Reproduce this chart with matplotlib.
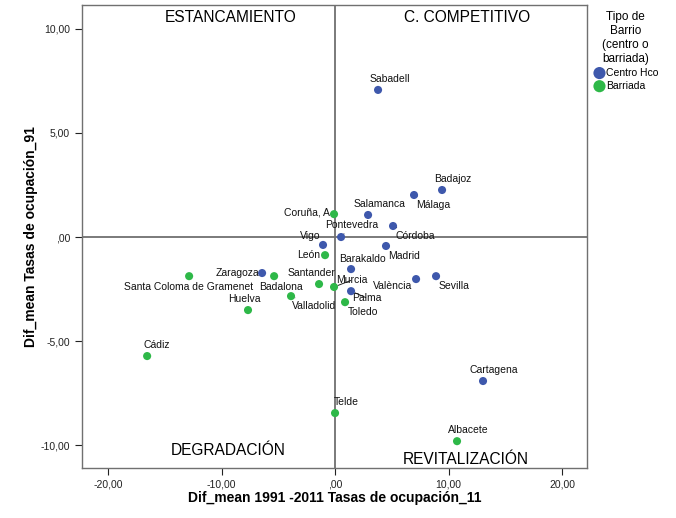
import matplotlib
matplotlib.use("Agg")
import matplotlib.pyplot as plt

plt.rcParams['font.family'] = ['Liberation Sans', 'DejaVu Sans']

# barrios: name, dif 1991-2011 (x), dif 91 (y), tipo
names = ["Sabadell", "Badajoz", "Málaga", "Salamanca", "Córdoba", "Pontevedra",
         "Madrid", "Barakaldo", "València", "Sevilla", "Palma", "Cartagena", "Zaragoza", "Vigo",
         "Coruña, A", "León", "Badalona", "Santa Coloma de Gramenet", "Santander",
         "Murcia", "Valladolid", "Toledo", "Huelva", "Cádiz", "Telde", "Albacete"]
x_vals = [3.79, 9.43, 6.96, 2.91, 5.11, 0.53,
          4.49, 1.41, 7.14, 8.90, 1.41, 13.04, -6.43, -1.06,
          -0.09, -0.88, -5.37, -12.86, -1.41,
          -0.09, -3.88, 0.88, -7.67, -16.56, 0.00, 10.75]
y_vals = [7.07, 2.26, 2.02, 1.06, 0.53, 0.00,
          -0.43, -1.54, -2.02, -1.88, -2.60, -6.92, -1.73, -0.38,
          1.10, -0.87, -1.88, -1.88, -2.26,
          -2.40, -2.84, -3.13, -3.51, -5.72, -8.46, -9.81]
tipo = ["Centro Hco"] * 14 + ["Barriada"] * 12

# label offsets in pixels (dx, dy)
offsets = [(12, 11), (11, 11), (19, -10), (11, 11), (22, -10), (11, 12),
           (18, -10), (11, 10), (-23, -7), (18, -10), (16, -7), (11, 11), (-25, 0), (-13, 9),
           (-27, 2), (-16, 0), (7, -11), (-1, -11), (-8, 11),
           (18, 7), (23, -10), (18, -10), (-4, 11), (10, 11), (11, 11), (11, 11)]

colors = {"Centro Hco": "#3E58AC", "Barriada": "#2EB848"}
quadrants = ["ESTANCAMIENTO", "C. COMPETITIVO", "DEGRADACIÓN", "REVITALIZACIÓN"]

fig = plt.figure(figsize=(6.76, 5.18), dpi=100)
ax = fig.add_axes([0.1213, 0.0965, 0.747, 0.8938])

ax.axvline(0, color="#707070", lw=1.3, zorder=1)
ax.axhline(0, color="#707070", lw=1.3, zorder=1)

for t in ["Centro Hco", "Barriada"]:
    xs = [x for x, k in zip(x_vals, tipo) if k == t]
    ys = [y for y, k in zip(y_vals, tipo) if k == t]
    ax.scatter(xs, ys, s=34, color=colors[t], edgecolors="none", zorder=5, label=t)

for n, x, y, (dx, dy) in zip(names, x_vals, y_vals, offsets):
    ax.annotate(n, (x, y), xytext=(dx, dy), textcoords="offset pixels",
                ha="center", va="center", fontsize=7.5, color="#111111", zorder=4,
                arrowprops=dict(arrowstyle="-", lw=0.7, color="#222222",
                                shrinkA=1, shrinkB=3))

qpos = [(0.295, 0.974), (0.762, 0.974), (0.289, 0.037), (0.760, 0.019)]
for q, (qx, qy) in zip(quadrants, qpos):
    ax.text(qx, qy, q, transform=ax.transAxes, ha="center", va="center",
            fontsize=11.2, color="#000000", fontweight="medium")

ax.set_xlim(-22.3, 22.2)
ax.set_ylim(-11.1, 11.15)
ax.set_xticks([-20, -10, 0, 10, 20])
ax.set_yticks([-10, -5, 0, 5, 10])
fmt = lambda v: (",00" if v == 0 else f"{v:.2f}".replace(".", ","))
ax.set_xticklabels([fmt(v) for v in [-20, -10, 0, 10, 20]])
ax.set_yticklabels([fmt(v) for v in [-10, -5, 0, 5, 10]])
ax.tick_params(labelsize=7.5, colors="#222222", length=5, width=0.8)
for s in ax.spines.values():
    s.set_color("#707070")
    s.set_linewidth(1.0)

ax.set_xlabel("Dif_mean 1991 -2011 Tasas de ocupación_11", fontsize=10,
              fontweight="bold", labelpad=1)
ax.set_ylabel("Dif_mean Tasas de ocupación_91", fontsize=10,
              fontweight="bold", labelpad=2)

leg = ax.legend(loc="upper left", bbox_to_anchor=(1.0, 1.0), frameon=False,
                title="Tipo de\nBarrio\n(centro o\nbarriada)",
                fontsize=7.5, title_fontsize=8.5, markerscale=1.5,
                handletextpad=0.0, borderaxespad=0.2, labelspacing=0.3,
                handlelength=1.2)
leg.get_title().set_multialignment("center")

fig.savefig("out.png", dpi=100)
